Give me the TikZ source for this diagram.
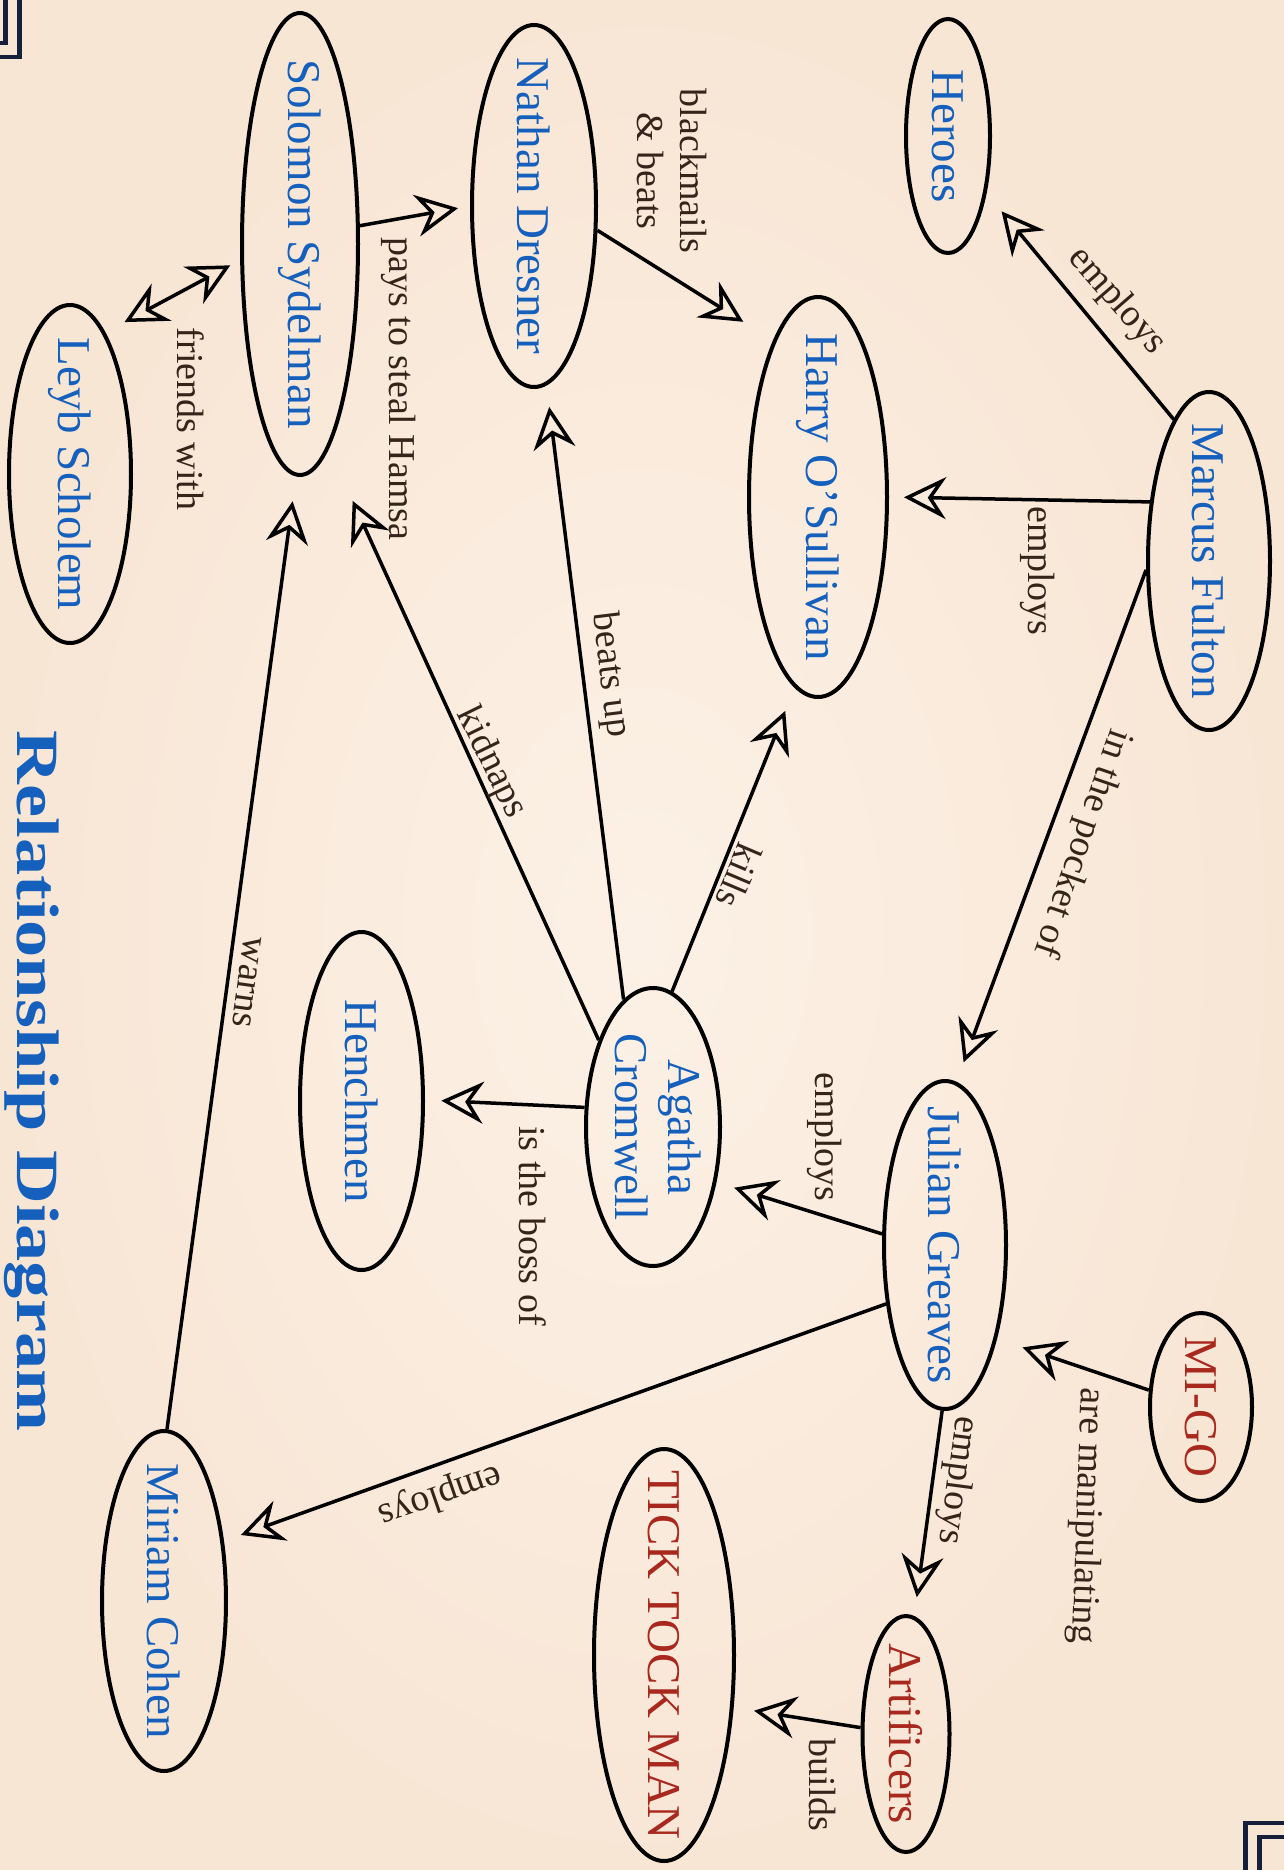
\documentclass[tikz,border=0pt]{standalone}
\usepackage{fontspec}
\setmainfont{Liberation Serif}
\usetikzlibrary{shapes.geometric, arrows.meta}
\definecolor{paper}{RGB}{248,230,213}
\definecolor{paperlight}{RGB}{252,241,230}
\definecolor{nameblue}{RGB}{21,96,189}
\definecolor{namered}{RGB}{168,40,30}
\definecolor{labelbrown}{RGB}{52,36,26}
\definecolor{navy}{RGB}{22,32,58}
\newcommand\myNodeFont{\fontsize{23.5}{26.5}\selectfont}
\newcommand\myLabFont{\fontsize{19}{21.5}\selectfont}
\newcommand\myTitleFont{\fontsize{30}{34}\selectfont\bfseries}
\begin{document}
\begin{tikzpicture}[x=0.5pt, y=0.5pt, rotate=-90, transform shape,
  person/.style={ellipse, draw=black, line width=2pt, inner sep=0pt, font=\myNodeFont, text=nameblue},
  thing/.style={person, text=namered},
  rel/.style={line width=1.75pt, -{Stealth[open, length=21pt, width=21pt, inset=7pt]}},
  relboth/.style={line width=1.75pt, {Stealth[open, length=21pt, width=21pt, inset=7pt]}-{Stealth[open, length=21pt, width=21pt, inset=7pt]}},
  lab/.style={font=\myLabFont, text=labelbrown, inner sep=0pt, align=center},
  corner/.style={draw=navy, line width=2.2pt}]
\useasboundingbox (0,0) rectangle (1870,1284);
\shade[inner color=paperlight, outer color=paper] (0,0) rectangle (1870,1284);
% corner brackets
\draw[corner] (0,19.5) -- (57,19.5) -- (57,0);
\draw[corner] (0,5.5) -- (43,5.5) -- (43,0);
\draw[corner] (1823,1284) -- (1823,1245.3) -- (1870,1245.3);
\draw[corner] (1837,1284) -- (1837,1259.5) -- (1870,1259.5);
% people
\node[person, minimum width=117pt, minimum height=42pt] (heroes) at (136,948) {\makebox[0pt]{Heroes}};
\node[person, minimum width=169pt, minimum height=61pt] (marcus) at (561,1209) {\makebox[0pt]{Marcus Fulton}};
\node[person, minimum width=200pt, minimum height=69pt] (harry) at (497,818) {\makebox[0pt]{Harry O’Sullivan}};
\node[person, minimum width=181pt, minimum height=62pt] (nathan) at (206,534) {\makebox[0pt]{Nathan Dresner}};
\node[person, minimum width=231pt, minimum height=58pt] (solomon) at (244,300) {\makebox[0pt]{Solomon Sydelman}};
\node[person, minimum width=169pt, minimum height=61pt] (leyb) at (474,70) {\makebox[0pt]{Leyb Scholem}};
\node[person, minimum width=164pt, minimum height=61pt] (julian) at (1245,945) {\makebox[0pt]{Julian Greaves}};
\node[person, minimum width=139pt, minimum height=67pt, inner ysep=-6pt] (agatha) at (1127,653) {\makebox[0pt]{\begin{tabular}{@{}c@{}}Agatha\\Cromwell\end{tabular}}};
\node[person, minimum width=169pt, minimum height=61.5pt] (henchmen) at (1101,361.5) {\makebox[0pt]{Henchmen}};
\node[thing, minimum width=94pt, minimum height=51pt] (migo) at (1407,1201) {\makebox[0pt]{MI-GO}};
\node[thing, minimum width=118pt, minimum height=43.5pt] (artificers) at (1734,906) {\makebox[0pt]{Artificers}};
\node[thing, minimum width=206pt, minimum height=70pt] (ticktock) at (1655,664) {\makebox[0pt]{TICK TOCK MAN}};
\node[person, minimum width=170pt, minimum height=62pt] (miriam) at (1601,164) {\makebox[0pt]{Miriam Cohen}};
% relations
\draw[rel, shorten >=11.75pt] (marcus.-166.9) -- (heroes.34.4);
\draw[rel, shorten >=7.5pt] (marcus.-135.5) -- (harry.90);
\draw[rel, shorten >=10.35pt] (marcus.-82.6) -- (julian.176.9);
\draw[rel, shorten >=17.6pt] (nathan.69.8) -- (harry.-164.25);
\draw[rel, shorten >=6.1pt] (solomon.107.1) -- (nathan.-90.2);
\draw[relboth, shorten <=5.6pt, shorten >=10.9pt] (solomon.-75.4) -- (leyb.166);
\draw[rel, shorten >=12.5pt] (agatha.172.7) -- (harry.-7.75);
\draw[rel, shorten >=10.8pt] (agatha.-167) -- (nathan.4.8);
\draw[rel, shorten >=28.8pt] (agatha.-148.85) -- (solomon.8.3);
\draw[rel, shorten >=8.2pt] (agatha.-106.3) -- (henchmen.91.4);
\draw[rel, shorten >=9.25pt] (julian.-100.6) -- (agatha.49.9);
\draw[rel, shorten >=9pt] (julian.-45.8) -- (miriam.135.1);
\draw[rel, shorten >=9.5pt] (julian.-1.7) -- (artificers.176);
\draw[rel, shorten >=13.45pt] (migo.-108.8) -- (julian.29.45);
\draw[rel, shorten >=10.3pt] (artificers.-98.8) -- (ticktock.53.9);
\draw[rel, shorten >=12.5pt] (miriam.179.4) -- (solomon.-1.3);
% labels
\node[lab, rotate=41] (l1) at (301,1117) {employs};
\node[lab] (l2) at (571,1038) {employs};
\node[lab, rotate=-19] (l3) at (843,1081.5) {in the pocket of};
\node[lab] (l4) at (171,671.5) {blackmails\\\& beats};
\node[lab] (l5) at (389,399) {pays to steal Hamsa};
\node[lab] (l6) at (419,190.5) {friends with};
\node[lab, rotate=-23] (l7) at (876,739) {kills};
\node[lab, rotate=7] (l8) at (675,610) {beats up};
\node[lab, rotate=26] (l9) at (763,491) {kidnaps};
\node[lab] (l10) at (1226,533) {is the boss of};
\node[lab] (l11) at (1137,825) {employs};
\node[lab, rotate=-8] (l12) at (982,247) {warns};
\node[lab, rotate=-71] (l13) at (1495,440) {employs};
\node[lab, rotate=-7.5] (l14) at (1480,957) {employs};
\node[lab, rotate=-2] (l15) at (1516,1086) {are manipulating};
\node[lab] (l16) at (1785,822) {builds};
\node[font=\myTitleFont, text=nameblue, inner sep=0pt] (title) at (1081,32) {\scalebox{1.24}[1]{Relationship Diagram}};
\end{tikzpicture}
\end{document}
